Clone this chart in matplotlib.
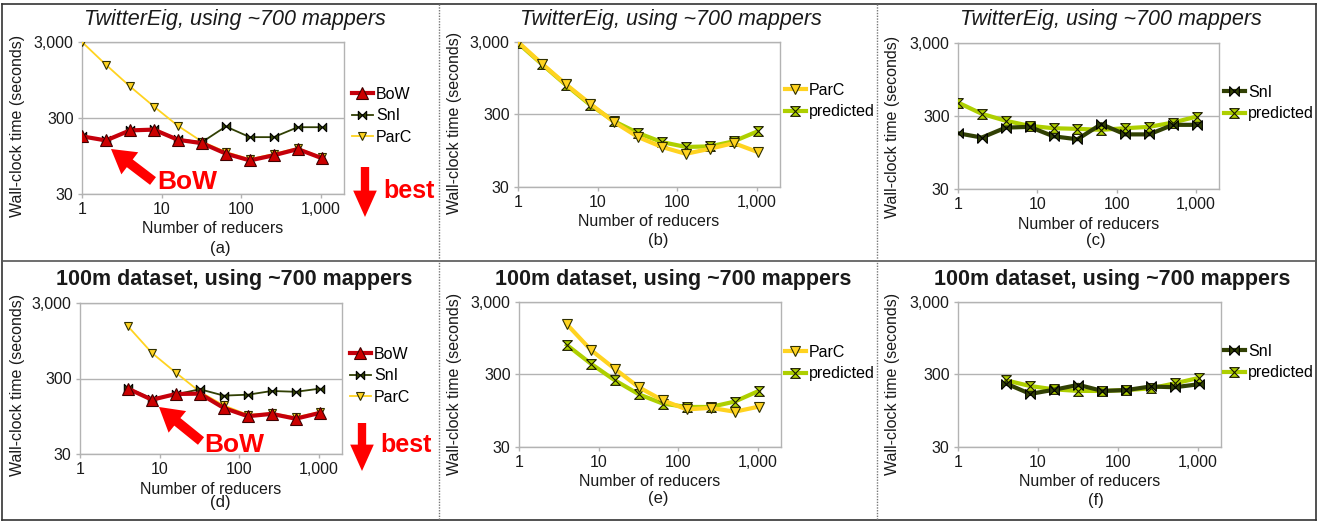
import matplotlib
matplotlib.use('Agg')
import matplotlib.pyplot as plt
from matplotlib.path import Path
from matplotlib.patches import FancyArrowPatch
from matplotlib.lines import Line2D
from matplotlib.ticker import FixedLocator, FixedFormatter, NullLocator

plt.rcParams['font.family'] = ['Liberation Sans', 'DejaVu Sans']

# ---------------- data ----------------
reducers_twitter = [1, 2, 4, 8, 16, 32, 64, 128, 256, 512, 1024]
reducers_100m = [4, 8, 16, 32, 64, 128, 256, 512, 1024]

twitter_bow = [172, 152, 206, 211, 155, 140, 102, 83, 97, 117, 89]
twitter_sni = [174, 152, 208, 213, 158, 144, 232, 168, 168, 227, 227]
twitter_parc = [3000, 1505, 782, 425, 237, 147, 107, 86, 101, 121, 91]
twitter_pred_parc = [2900, 1478, 765, 410, 243, 167, 125, 107, 109, 128, 176]
twitter_pred_sni = [459, 321, 258, 220, 204, 200, 194, 204, 213, 244, 295]

m100_bow = [220, 157, 187, 189, 122, 95, 102, 88, 105]
m100_sni = [225, 162, 185, 216, 178, 183, 205, 200, 220]
m100_parc = [1475, 654, 358, 200, 132, 99, 104, 92, 108]
m100_pred_parc = [765, 423, 249, 160, 119, 107, 107, 127, 178]
m100_pred_sni = [249, 208, 187, 178, 178, 183, 193, 226, 269]

x_ticks = [1, 10, 100, 1000]
x_tick_labels = ['1', '10', '100', '1,000']
y_ticks = [30, 300, 3000]
y_tick_labels = ['30', '300', '3,000']

title_twitter = 'TwitterEig, using ~700 mappers'
title_100m = '100m dataset, using ~700 mappers'
xlabel = 'Number of reducers'
ylabel = 'Wall-clock time (seconds)'

# ---------------- style ----------------
C_BOW = '#c5000b'
C_SNI = '#314004'
C_PARC = '#ffd320'
C_PRED = '#aecf00'
C_GRID = '#b3b3b3'
C_TXT = '#1a1a1a'

bowtie = Path([(-1, -1), (-1, 1), (1, -1), (1, 1), (-1, -1)])
hourglass = Path([(-1, 1), (1, 1), (-1, -1), (1, -1), (-1, 1)])

W, H = 1330, 522
fig = plt.figure(figsize=(W / 100, H / 100), dpi=100)


def fx(px):
    return px / W


def fy(py):
    return 1 - py / H


def make_axes(l, t, r, b):
    ax = fig.add_axes([fx(l), fy(b), (r - l) / W, (b - t) / H])
    ax.set_xscale('log')
    ax.set_yscale('log')
    ax.set_xlim(1, 1950)
    ax.set_ylim(30, 3000)
    ax.xaxis.set_major_locator(FixedLocator(x_ticks))
    ax.xaxis.set_major_formatter(FixedFormatter(x_tick_labels))
    ax.yaxis.set_major_locator(FixedLocator(y_ticks))
    ax.yaxis.set_major_formatter(FixedFormatter(y_tick_labels))
    ax.xaxis.set_minor_locator(NullLocator())
    ax.yaxis.set_minor_locator(NullLocator())
    for s in ax.spines.values():
        s.set_color(C_GRID)
        s.set_linewidth(1)
    ax.tick_params(axis='both', length=3, width=1, color=C_GRID,
                   labelsize=11.5, labelcolor=C_TXT, pad=3)
    ax.grid(axis='y', color=C_GRID, lw=1, zorder=0)
    ax.set_axisbelow(True)
    return ax


def labels(ax, l, r, b, ylab_x, ylab_y, tag, tag_x, tag_y):
    fig.text(fx((l + r) / 2), fy(b + 35), xlabel, ha='center', va='center',
             fontsize=11.5, color=C_TXT)
    fig.text(fx(ylab_x), fy(ylab_y), ylabel, ha='center', va='center',
             rotation=90, fontsize=11.5, color=C_TXT)
    fig.text(fx(tag_x), fy(tag_y), tag, ha='center', va='center',
             fontsize=12, color=C_TXT)


def legend(ax, x, y):
    ax.legend(loc='upper left', bbox_to_anchor=(fx(x), fy(y)),
              bbox_transform=fig.transFigure, frameon=False, fontsize=11.5,
              handlelength=1.3, handletextpad=0.2, borderpad=0,
              borderaxespad=0, labelspacing=0.4)


def block_arrow(p0, p1, hl, hw, tw):
    a = FancyArrowPatch((fx(p0[0]), fy(p0[1])), (fx(p1[0]), fy(p1[1])),
                        transform=fig.transFigure,
                        arrowstyle=f'simple,head_length={hl},head_width={hw},tail_width={tw}',
                        mutation_scale=1, color='#ff0000', lw=0,
                        shrinkA=0, shrinkB=0)
    fig.patches.append(a)


# ---------------- panel (a) ----------------
ax = make_axes(82, 42, 344, 194)
ax.plot(reducers_twitter, twitter_bow, color=C_BOW, lw=3, marker='^', ms=9,
        mfc='#cc0000', mec='#400000', mew=0.8, label='BoW', zorder=5)
ax.plot(reducers_twitter, twitter_sni, color=C_SNI, lw=1.3, marker=bowtie, ms=6,
        mfc=C_SNI, mec='#000000', mew=0.8, label='SnI', zorder=4)
ax.plot(reducers_twitter, twitter_parc, color=C_PARC, lw=1.3, marker='v', ms=6,
        mfc=C_PARC, mec='#303000', mew=0.8, label='ParC', zorder=3)
legend(ax, 352, 87)
labels(ax, 82, 344, 194, 18, 126, '(a)', 220, 248)
fig.text(fx(235), fy(19), title_twitter, ha='center', va='center',
         fontsize=15.5, style='italic', color=C_TXT)
block_arrow((153, 181), (111, 149), 17, 20, 7)
fig.text(fx(157), fy(182), 'BoW', ha='left', va='center', fontsize=19,
         fontweight='bold', color='#ff0000')
block_arrow((365, 167), (365, 217), 19, 17, 6)
fig.text(fx(383), fy(191), 'best', ha='left', va='center', fontsize=18,
         fontweight='bold', color='#ff0000')

# ---------------- panel (b) ----------------
ax = make_axes(518, 42, 780, 187)
ax.plot(reducers_twitter, twitter_parc, color=C_PARC, lw=3, marker='v', ms=7,
        mfc=C_PARC, mec='#303000', mew=0.8, label='ParC', zorder=5)
ax.plot(reducers_twitter, twitter_pred_parc, color=C_PRED, lw=3, marker=hourglass,
        ms=7, mfc=C_PRED, mec='#1a1a00', mew=0.8, label='predicted', zorder=4)
legend(ax, 785, 83)
labels(ax, 518, 780, 187, 455, 123, '(b)', 658, 240)
fig.text(fx(671), fy(19), title_twitter, ha='center', va='center',
         fontsize=15.5, style='italic', color=C_TXT)

# ---------------- panel (c) ----------------
ax = make_axes(958, 43, 1219, 189)
ax.plot(reducers_twitter, twitter_sni, color=C_SNI, lw=3, marker=bowtie, ms=7,
        mfc=C_SNI, mec='#000000', mew=0.8, label='SnI', zorder=5)
ax.plot(reducers_twitter, twitter_pred_sni, color=C_PRED, lw=3, marker=hourglass,
        ms=7, mfc=C_PRED, mec='#1a1a00', mew=0.8, label='predicted', zorder=4)
legend(ax, 1224, 85)
labels(ax, 958, 1219, 189, 893, 127, '(c)', 1096, 240)
fig.text(fx(1111), fy(19), title_twitter, ha='center', va='center',
         fontsize=15.5, style='italic', color=C_TXT)

# ---------------- panel (d) ----------------
ax = make_axes(80, 303, 342, 454)
ax.plot(reducers_100m, m100_bow, color=C_BOW, lw=3, marker='^', ms=9,
        mfc='#cc0000', mec='#400000', mew=0.8, label='BoW', zorder=5)
ax.plot(reducers_100m, m100_sni, color=C_SNI, lw=1.3, marker=bowtie, ms=6,
        mfc=C_SNI, mec='#000000', mew=0.8, label='SnI', zorder=4)
ax.plot(reducers_100m, m100_parc, color=C_PARC, lw=1.3, marker='v', ms=6,
        mfc=C_PARC, mec='#303000', mew=0.8, label='ParC', zorder=3)
legend(ax, 350, 347)
labels(ax, 80, 342, 454, 18, 385, '(d)', 220, 503)
fig.text(fx(234), fy(280), title_100m, ha='center', va='center',
         fontsize=15.5, fontweight='bold', color=C_TXT)
block_arrow((201, 441), (159, 407), 17, 20, 7)
fig.text(fx(204), fy(445), 'BoW', ha='left', va='center', fontsize=19,
         fontweight='bold', color='#ff0000')
block_arrow((362, 423), (362, 471), 19, 17, 6)
fig.text(fx(380), fy(445), 'best', ha='left', va='center', fontsize=18,
         fontweight='bold', color='#ff0000')

# ---------------- panel (e) ----------------
ax = make_axes(519, 302, 781, 447)
ax.plot(reducers_100m, m100_parc, color=C_PARC, lw=3, marker='v', ms=7,
        mfc=C_PARC, mec='#303000', mew=0.8, label='ParC', zorder=5)
ax.plot(reducers_100m, m100_pred_parc, color=C_PRED, lw=3, marker=hourglass,
        ms=7, mfc=C_PRED, mec='#1a1a00', mew=0.8, label='predicted', zorder=4)
legend(ax, 785, 345)
labels(ax, 519, 781, 447, 455, 384, '(e)', 658, 498)
fig.text(fx(673), fy(280), title_100m, ha='center', va='center',
         fontsize=15.5, fontweight='bold', color=C_TXT)

# ---------------- panel (f) ----------------
ax = make_axes(958, 302, 1221, 447)
ax.plot(reducers_100m, m100_sni, color=C_SNI, lw=3, marker=bowtie, ms=7,
        mfc=C_SNI, mec='#000000', mew=0.8, label='SnI', zorder=5)
ax.plot(reducers_100m, m100_pred_sni, color=C_PRED, lw=3, marker=hourglass,
        ms=7, mfc=C_PRED, mec='#1a1a00', mew=0.8, label='predicted', zorder=4)
legend(ax, 1224, 344)
labels(ax, 958, 1221, 447, 893, 384, '(f)', 1096, 501)
fig.text(fx(1112), fy(280), title_100m, ha='center', va='center',
         fontsize=15.5, fontweight='bold', color=C_TXT)

# ---------------- frame and separators ----------------
def fig_line(x0, y0, x1, y1, **kw):
    fig.add_artist(Line2D([fx(x0), fx(x1)], [fy(y0), fy(y1)],
                          transform=fig.transFigure, **kw))

fig_line(2, 4, 1316, 4, color='#333333', lw=1.2)
fig_line(2, 520, 1316, 520, color='#333333', lw=1.2)
fig_line(2, 4, 2, 520, color='#333333', lw=1.2)
fig_line(1316, 4, 1316, 520, color='#333333', lw=1.2)
fig_line(2, 261, 1316, 261, color='#555555', lw=1.2)
fig_line(439, 4, 439, 520, color='#777777', lw=1, ls=(0, (1, 1)))
fig_line(877, 4, 877, 520, color='#777777', lw=1, ls=(0, (1, 1)))

fig.savefig('out.png', dpi=100)
